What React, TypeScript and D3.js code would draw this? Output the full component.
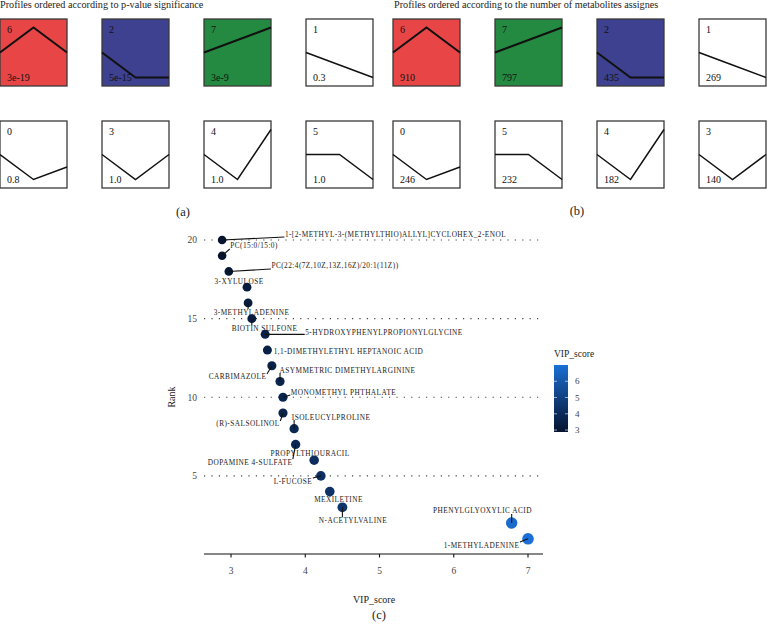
import { useEffect, useRef } from 'react';
import * as d3 from 'd3';

// profile shapes (3 time points, unit changes)
const profileShapes: Record<string, number[]> = {
  '0': [0, -1, -0.5],
  '1': [0, -0.5, -1],
  '2': [0, -1, -1],
  '3': [0, -1, 0],
  '4': [0, -1, 1],
  '5': [0, 0, -1],
  '6': [0, 1, 0],
  '7': [0, 0.5, 1],
};
const profileColors: Record<string, string> = { '6': '#e84646', '2': '#3d418f', '7': '#258a41' };

const pvalueOrder = ['6', '2', '7', '1', '0', '3', '4', '5'];
const pvalueLabels = ['3e-19', '5e-15', '3e-9', '0.3', '0.8', '1.0', '1.0', '1.0'];
const countOrder = ['6', '7', '2', '1', '0', '5', '4', '3'];
const countLabels = ['910', '797', '435', '269', '246', '232', '182', '140'];

// VIP plot
const ranks = [1, 2, 3, 4, 5, 6, 7, 8, 9, 10, 11, 12, 13, 14, 15, 16, 17, 18, 19, 20];
const vipScores = [7.0, 6.78, 4.5, 4.33, 4.21, 4.12, 3.87, 3.85, 3.7, 3.7, 3.66, 3.55, 3.49, 3.46, 3.28, 3.23, 3.215, 2.97, 2.88, 2.88];
const metabolites = [
  '1-METHYLADENINE',
  'PHENYLGLYOXYLIC ACID',
  'N-ACETYLVALINE',
  'MEXILETINE',
  'L-FUCOSE',
  'PROPYLTHIOURACIL',
  'DOPAMINE 4-SULFATE',
  'ISOLEUCYLPROLINE',
  '(R)-SALSOLINOL',
  'MONOMETHYL PHTHALATE',
  'ASYMMETRIC DIMETHYLARGININE',
  'CARBIMAZOLE',
  '1,1-DIMETHYLETHYL HEPTANOIC ACID',
  '5-HYDROXYPHENYLPROPIONYLGLYCINE',
  'BIOTIN SULFONE',
  '3-METHYLADENINE',
  '3-XYLULOSE',
  'PC(22:4(7Z,10Z,13Z,16Z)/20:1(11Z))',
  'PC(15:0/15:0)',
  '1-[2-METHYL-3-(METHYLTHIO)ALLYL]CYCLOHEX_2-ENOL',
];
// repelled label centres, in data units
const labelVip = [6.374, 6.387, 4.643, 4.448, 3.835, 4.064, 3.256, 4.347, 3.229, 4.515, 4.569, 3.088, 4.582, 5.06, 3.451, 3.276, 3.108, 4.4, 3.31, 5.215];
const labelRank = [0.6, 2.77, 2.19, 3.47, 4.67, 6.45, 5.88, 8.74, 8.3, 10.33, 11.73, 11.29, 12.94, 14.09, 14.4, 15.42, 17.39, 18.35, 19.62, 20.38];

const xTicks = [3, 4, 5, 6, 7];
const yTicks = [5, 10, 15, 20];
const legendTicks = [3, 4, 5, 6];

const serif = '"Liberation Serif", "DejaVu Serif", serif';

export default function App() {
  const svgRef = useRef<SVGSVGElement>(null);

  useEffect(() => {
    if (!svgRef.current) return;
    const svg = d3.select(svgRef.current);
    svg.selectAll('*').remove();
    svg.style('font-family', serif);

    // ---------- profile panels ----------
    const boxW = 67;
    const boxH = 67;
    const rowTops = [19, 121];

    const drawPanel = (x0: number, title: string, order: string[], labels: string[]) => {
      const g = svg.append('g');
      g.append('text')
        .attr('x', x0)
        .attr('y', 8)
        .style('font-size', '10.2px')
        .attr('fill', '#222')
        .text(title);

      order.forEach((id, i) => {
        const col = i % 4;
        const row = Math.floor(i / 4);
        const bx = (x0 === 0 ? 0 : x0 - 1) + col * 102;
        const by = rowTops[row];
        const fill = profileColors[id] || '#fff';
        const colored = !!profileColors[id];

        const x = d3.scaleLinear().domain([0, 2]).range([bx, bx + boxW]);
        const y = d3.scaleLinear().domain([-1.34, 1.34]).range([by + boxH, by]);

        g.append('rect')
          .attr('x', bx)
          .attr('y', by)
          .attr('width', boxW)
          .attr('height', boxH)
          .attr('fill', fill)
          .attr('stroke', '#3a3a3a')
          .attr('stroke-width', 1.3);

        const line = d3.line<number>()
          .x((_, j) => x(j))
          .y(d => y(d));

        g.append('path')
          .attr('d', line(profileShapes[id]))
          .attr('fill', 'none')
          .attr('stroke', '#111')
          .attr('stroke-width', colored ? 2 : 1.5);

        g.append('text')
          .attr('x', bx + 7)
          .attr('y', by + 14)
          .style('font-size', '10px')
          .attr('fill', '#111')
          .text(id);

        g.append('text')
          .attr('x', bx + 7)
          .attr('y', by + 61.5)
          .style('font-size', '10px')
          .attr('fill', '#111')
          .text(labels[i]);
      });
    };

    drawPanel(0, 'Profiles ordered according to p-value significance', pvalueOrder, pvalueLabels);
    drawPanel(394, 'Profiles ordered according to the number of metabolites assignes', countOrder, countLabels);

    const captions = [
      { t: '(a)', x: 183, y: 216 },
      { t: '(b)', x: 577, y: 215 },
      { t: '(c)', x: 379, y: 619 },
    ];
    svg.selectAll('text.caption')
      .data(captions)
      .join('text')
      .attr('class', 'caption')
      .attr('x', d => d.x)
      .attr('y', d => d.y)
      .attr('text-anchor', 'middle')
      .style('font-size', '12.5px')
      .attr('fill', '#222')
      .text(d => d.t);

    // ---------- VIP plot ----------
    const x = d3.scaleLinear().domain([2.636, 7.202]).range([204, 543]);
    const y = d3.scaleLinear().domain([0, 20]).range([554.5, 240]);
    const color = d3.scaleLinear<string>()
      .domain([2.88, 7])
      .range(['#061430', '#1a70d6'])
      .interpolate(d3.interpolateLab);
    const size = d3.scaleLinear().domain([2.88, 7]).range([4.3, 5.8]);

    const plot = svg.append('g');

    // dotted grid
    plot.append('g')
      .selectAll('line')
      .data(yTicks)
      .join('line')
      .attr('x1', 204)
      .attr('x2', 543)
      .attr('y1', d => y(d))
      .attr('y2', d => y(d))
      .attr('stroke', '#444')
      .attr('stroke-width', 1.2)
      .attr('stroke-dasharray', '1.2 6.2');

    plot.append('g')
      .selectAll('text')
      .data(yTicks)
      .join('text')
      .attr('x', 197)
      .attr('y', d => y(d))
      .attr('dy', '0.35em')
      .attr('text-anchor', 'end')
      .style('font-size', '9.5px')
      .attr('fill', '#444')
      .text(d => d);

    // x axis
    const xAxis = plot.append('g').attr('transform', 'translate(0,554)');
    xAxis.append('line')
      .attr('x1', 204)
      .attr('x2', 543)
      .attr('stroke', '#111')
      .attr('stroke-width', 1.2);
    xAxis.selectAll('line.tick')
      .data(xTicks)
      .join('line')
      .attr('class', 'tick')
      .attr('x1', d => x(d))
      .attr('x2', d => x(d))
      .attr('y1', 0)
      .attr('y2', 3.5)
      .attr('stroke', '#111')
      .attr('stroke-width', 1.1);
    xAxis.selectAll('text')
      .data(xTicks)
      .join('text')
      .attr('x', d => x(d))
      .attr('y', 20)
      .attr('text-anchor', 'middle')
      .style('font-size', '9.5px')
      .attr('fill', '#444')
      .text(d => d);

    plot.append('text')
      .attr('x', 374)
      .attr('y', 603)
      .attr('text-anchor', 'middle')
      .style('font-size', '10px')
      .attr('fill', '#222')
      .text('VIP_score');

    plot.append('text')
      .attr('transform', 'translate(175,397) rotate(-90)')
      .attr('text-anchor', 'middle')
      .style('font-size', '10px')
      .attr('fill', '#222')
      .text('Rank');

    const data = ranks.map((r, i) => ({
      rank: r,
      vip: vipScores[i],
      name: metabolites[i],
      lx: labelVip[i],
      ly: labelRank[i],
    }));

    // points
    plot.append('g')
      .selectAll('circle')
      .data(data)
      .join('circle')
      .attr('cx', d => x(d.vip))
      .attr('cy', d => y(d.rank))
      .attr('r', d => size(d.vip))
      .attr('fill', d => color(d.vip));

    // labels
    const labels = plot.append('g')
      .selectAll('text')
      .data(data)
      .join('text')
      .attr('x', d => x(d.lx))
      .attr('y', d => y(d.ly))
      .attr('dy', '0.34em')
      .attr('text-anchor', 'middle')
      .style('font-size', '7.3px')
      .style('letter-spacing', '0.45px')
      .attr('fill', '#1a1a1a')
      .text(d => d.name);

    // leader segments, point -> nearest edge of label box
    const segs: { x1: number; y1: number; x2: number; y2: number }[] = [];
    labels.each(function (d) {
      const b = (this as SVGTextElement).getBBox();
      const bx0 = b.x - 0.5;
      const bx1 = b.x + b.width + 0.5;
      const by0 = y(d.ly) - 3;
      const by1 = y(d.ly) + 3;
      const px = x(d.vip);
      const py = y(d.rank);
      const nx = Math.max(bx0, Math.min(px, bx1));
      const ny = Math.max(by0, Math.min(py, by1));
      const dist = Math.hypot(nx - px, ny - py);
      if (dist > size(d.vip) + 1.5) segs.push({ x1: px, y1: py, x2: nx, y2: ny });
    });
    plot.append('g')
      .selectAll('line')
      .data(segs)
      .join('line')
      .attr('x1', d => d.x1)
      .attr('y1', d => d.y1)
      .attr('x2', d => d.x2)
      .attr('y2', d => d.y2)
      .attr('stroke', '#111')
      .attr('stroke-width', 1.1);

    // colour legend
    const ly = d3.scaleLinear().domain([2.88, 7]).range([432, 365]);
    const grad = svg.append('defs').append('linearGradient')
      .attr('id', 'vipgrad')
      .attr('x1', 0).attr('x2', 0).attr('y1', 1).attr('y2', 0);
    grad.selectAll('stop')
      .data(d3.range(0, 1.001, 0.1))
      .join('stop')
      .attr('offset', d => d)
      .attr('stop-color', d => color(2.88 + d * (7 - 2.88)));

    const leg = svg.append('g');
    leg.append('text')
      .attr('x', 554)
      .attr('y', 357)
      .style('font-size', '9.5px')
      .attr('fill', '#222')
      .text('VIP_score');
    leg.append('rect')
      .attr('x', 554)
      .attr('y', 365)
      .attr('width', 14)
      .attr('height', 67)
      .attr('fill', 'url(#vipgrad)');
    legendTicks.forEach(t => {
      leg.append('line').attr('x1', 554).attr('x2', 557).attr('y1', ly(t)).attr('y2', ly(t))
        .attr('stroke', '#fff').attr('stroke-opacity', 0.6);
      leg.append('line').attr('x1', 565).attr('x2', 568).attr('y1', ly(t)).attr('y2', ly(t))
        .attr('stroke', '#fff').attr('stroke-opacity', 0.6);
    });
    leg.selectAll('text.lt')
      .data(legendTicks)
      .join('text')
      .attr('class', 'lt')
      .attr('x', 575)
      .attr('y', d => ly(d))
      .attr('dy', '0.35em')
      .style('font-size', '9px')
      .attr('fill', '#444')
      .text(d => d);
  }, []);

  return (
    <svg
      ref={svgRef}
      width={767}
      height={626}
      style={{ position: 'absolute', left: 0, top: 0, background: '#fff' }}
    />
  );
}
